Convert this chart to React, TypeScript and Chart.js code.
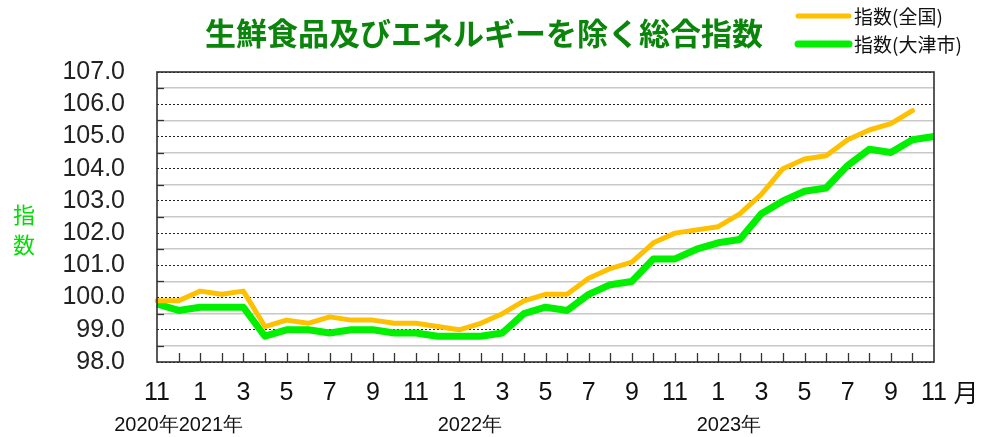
import React, { useEffect, useRef } from "react";
import { Chart, registerables } from "chart.js";

Chart.register(...registerables);

// ---- data ----
const monthLabels = [
  "11", "12", "1", "2", "3", "4", "5", "6", "7", "8", "9", "10",
  "11", "12", "1", "2", "3", "4", "5", "6", "7", "8", "9", "10",
  "11", "12", "1", "2", "3", "4", "5", "6", "7", "8", "9", "10", "11",
];
const nationalIndex: (number | null)[] = [
  99.9, 99.9, 100.2, 100.1, 100.2, 99.1, 99.3, 99.2, 99.4, 99.3, 99.3, 99.2,
  99.2, 99.1, 99.0, 99.2, 99.5, 99.9, 100.1, 100.1, 100.6, 100.9, 101.1, 101.7,
  102.0, 102.1, 102.2, 102.6, 103.2, 104.0, 104.3, 104.4, 104.9, 105.2, 105.4, 105.8, null,
];
const otsuIndex: number[] = [
  99.8, 99.6, 99.7, 99.7, 99.7, 98.8, 99.0, 99.0, 98.9, 99.0, 99.0, 98.9,
  98.9, 98.8, 98.8, 98.8, 98.9, 99.5, 99.7, 99.6, 100.1, 100.4, 100.5, 101.2,
  101.2, 101.5, 101.7, 101.8, 102.6, 103.0, 103.3, 103.4, 104.1, 104.6, 104.5, 104.9, 105.0,
];
const yearLabels = ["2020年", "2021年", "2022年", "2023年"];
const yearStartIndex = [0, 2, 14, 26];
const yMin = 98;
const yMax = 107;
const yStep = 0.5;
const titleText = "生鮮食品及びエネルギーを除く総合指数";
const seriesNames = ["指数(全国)", "指数(大津市)"];
const seriesColors = ["#FFC000", "#00F000"];
const seriesWidths = [5, 7];
const yAxisTitle = ["指", "数"];
const monthUnit = "月";

const isInt = (v: number) => Math.abs(v - Math.round(v)) < 1e-6;

const CJK = "'Noto Sans CJK JP', 'Noto Sans', sans-serif";
const SANS = "'Liberation Sans', Arial, sans-serif";

const decorPlugin = {
  id: "decor",
  afterDraw(chart: any) {
    const { ctx, chartArea: a, scales } = chart;
    const xs = scales.x;
    const ys = scales.y;
    ctx.save();

    // inner tick marks on x axis
    ctx.strokeStyle = "#333";
    ctx.lineWidth = 1.3;
    for (let i = 1; i < monthLabels.length - 1; i++) {
      const px = Math.round(xs.getPixelForValue(i)) + 0.5;
      ctx.beginPath();
      ctx.moveTo(px, a.bottom);
      ctx.lineTo(px, a.bottom - 9);
      ctx.stroke();
    }
    // inner tick marks on y axis (half values)
    ys.ticks.forEach((t: any) => {
      if (!isInt(t.value)) {
        const py = Math.round(ys.getPixelForValue(t.value)) + 0.5;
        ctx.beginPath();
        ctx.moveTo(a.left, py);
        ctx.lineTo(a.left + 7, py);
        ctx.stroke();
      }
    });

    // frame
    ctx.strokeStyle = "#303030";
    ctx.lineWidth = 1.6;
    ctx.strokeRect(a.left, a.top, a.right - a.left, a.bottom - a.top);

    // title
    ctx.fillStyle = "#0A840A";
    ctx.font = `bold 31px ${CJK}`;
    ctx.textAlign = "center";
    ctx.textBaseline = "middle";
    ctx.fillText(titleText, 484, 33);

    // legend
    const legY = [16, 44];
    seriesNames.forEach((name, i) => {
      ctx.strokeStyle = seriesColors[i];
      ctx.lineWidth = seriesWidths[i];
      ctx.lineCap = "round";
      ctx.beginPath();
      ctx.moveTo(798, legY[i]);
      ctx.lineTo(849, legY[i]);
      ctx.stroke();
      ctx.fillStyle = "#111";
      ctx.font = `19px ${CJK}`;
      ctx.textAlign = "left";
      ctx.textBaseline = "middle";
      ctx.fillText(name, 854, legY[i] + 1);
    });

    // y axis title (vertical)
    ctx.fillStyle = "#00DD00";
    ctx.font = `22px ${CJK}`;
    ctx.textAlign = "center";
    yAxisTitle.forEach((ch, i) => ctx.fillText(ch, 24, 215 + i * 30));

    // month unit
    ctx.fillStyle = "#111";
    ctx.font = `25px ${CJK}`;
    ctx.fillText(monthUnit, 966, 392);

    // year labels
    ctx.font = `20px ${SANS}`;
    ctx.fillStyle = "#111";
    ctx.textAlign = "left";
    const boxes = yearLabels.map((lab, i) => {
      const w = ctx.measureText(lab).width;
      const cx = xs.getPixelForValue(yearStartIndex[i] + 0.5);
      return { lab, w, x: cx - w / 2 };
    });
    for (let i = boxes.length - 2; i >= 0; i--) {
      const end = boxes[i].x + boxes[i].w;
      if (end > boxes[i + 1].x) boxes[i].x = boxes[i + 1].x - boxes[i].w;
    }
    boxes.forEach((b) => ctx.fillText(b.lab, b.x, 425));

    ctx.restore();
  },
};

export default function App() {
  const ref = useRef<HTMLCanvasElement | null>(null);
  useEffect(() => {
    if (!ref.current) return;
    const chart = new Chart(ref.current, {
      type: "line",
      data: {
        labels: monthLabels,
        datasets: [
          {
            label: seriesNames[0],
            data: nationalIndex,
            borderColor: seriesColors[0],
            backgroundColor: seriesColors[0],
            borderWidth: seriesWidths[0],
            pointRadius: 0,
            tension: 0,
            borderCapStyle: "round",
            borderJoinStyle: "round",
            spanGaps: false,
          },
          {
            label: seriesNames[1],
            data: otsuIndex,
            borderColor: seriesColors[1],
            backgroundColor: seriesColors[1],
            borderWidth: seriesWidths[1],
            pointRadius: 0,
            tension: 0,
            borderJoinStyle: "round",
          },
        ],
      },
      options: {
        animation: false,
        responsive: false,
        layout: { padding: { left: 0, right: 50, top: 72, bottom: 0 } },
        plugins: {
          legend: { display: false },
          title: { display: false },
          tooltip: { enabled: false },
        },
        scales: {
          x: {
            type: "category",
            offset: false,
            grid: { display: false, drawTicks: false },
            border: { display: false },
            ticks: {
              autoSkip: false,
              maxRotation: 0,
              padding: 16,
              color: "#111",
              font: { family: SANS, size: 25 },
              callback: (_v: any, i: number) => (i % 2 === 0 ? monthLabels[i] : ""),
            },
            afterFit: (s: any) => {
              s.height = 75;
            },
          },
          y: {
            min: yMin,
            max: yMax,
            ticks: {
              stepSize: yStep,
              autoSkip: false,
              padding: 32,
              color: "#222",
              font: { family: SANS, size: 25 },
              callback: (v: any) => (isInt(Number(v)) ? Number(v).toFixed(1) : ""),
            },
            grid: {
              drawTicks: false,
              color: (c: any) => (c.tick && isInt(c.tick.value) ? "#222" : "#C8C8C8"),
              lineWidth: (c: any) => (c.tick && isInt(c.tick.value) ? 1 : 1.6),
            },
            border: {
              display: false,
              dash: (c: any) => (c.tick && isInt(c.tick.value) ? [2, 2] : []),
            },
            afterFit: (s: any) => {
              s.width = 157;
            },
          },
        },
      },
      plugins: [decorPlugin],
    });
    return () => chart.destroy();
  }, []);

  return (
    <div style={{ position: "absolute", left: 0, top: 0, width: 984, height: 437, background: "#fff" }}>
      <canvas ref={ref} width={984} height={437} style={{ display: "block" }} />
    </div>
  );
}
